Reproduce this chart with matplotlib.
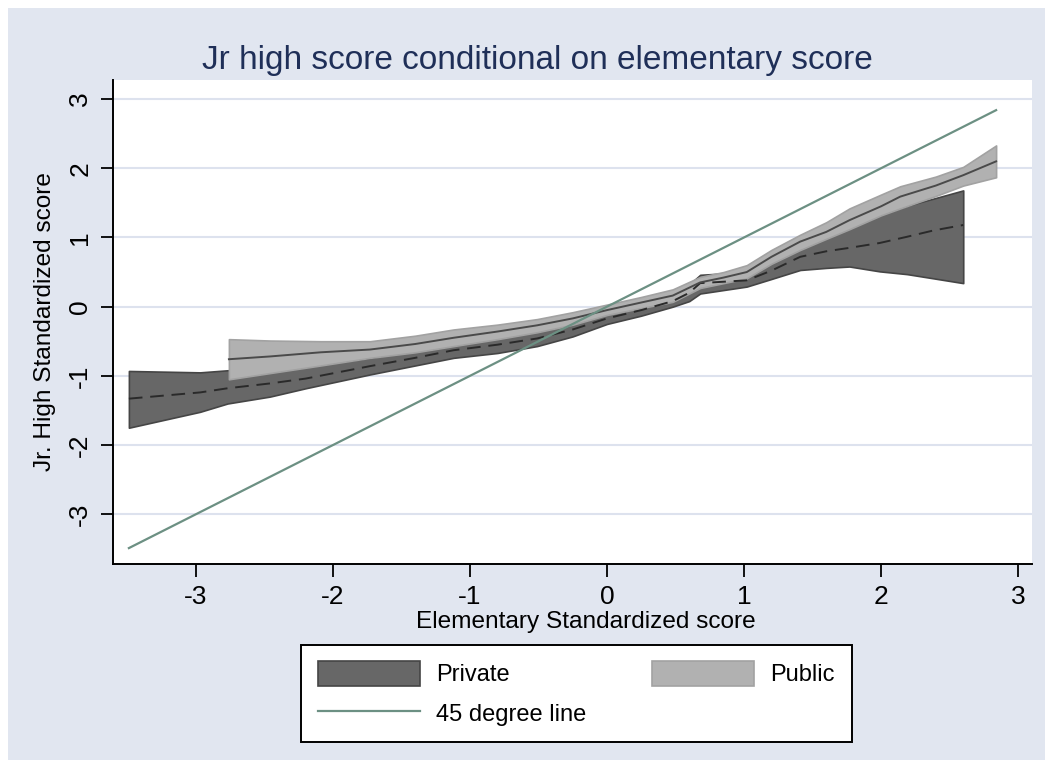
import matplotlib
matplotlib.use("Agg")
import matplotlib.pyplot as plt
from matplotlib.patches import Rectangle, Patch
from matplotlib.lines import Line2D

plt.rcParams['font.family'] = ['Liberation Sans', 'DejaVu Sans']
plt.rcParams['axes.unicode_minus'] = False

# ---------------- data ----------------
# Private school: conditional mean and confidence band
priv_x = [-3.49, -2.97, -2.77, -2.46, -2.20, -1.73, -1.40, -1.12, -0.80, -0.51, -0.25, 0.00,
          0.25, 0.48, 0.60, 0.68, 0.85, 1.02, 1.20, 1.41, 1.60, 1.77, 1.99, 2.19, 2.38, 2.60]
priv_mean = [-1.33, -1.24, -1.18, -1.11, -1.04, -0.86, -0.74, -0.63, -0.55, -0.46, -0.33, -0.17,
             -0.05, 0.08, 0.20, 0.34, 0.36, 0.38, 0.52, 0.72, 0.80, 0.85, 0.92, 1.01, 1.10, 1.18]
priv_lo = [-1.75, -1.52, -1.40, -1.30, -1.18, -0.98, -0.85, -0.74, -0.67, -0.57, -0.43, -0.25,
           -0.13, 0.00, 0.08, 0.19, 0.24, 0.29, 0.40, 0.53, 0.56, 0.58, 0.51, 0.47, 0.41, 0.34]
priv_hi = [-0.93, -0.95, -0.92, -0.90, -0.86, -0.74, -0.62, -0.52, -0.44, -0.35, -0.21, -0.06,
           0.06, 0.18, 0.32, 0.46, 0.48, 0.50, 0.68, 0.90, 1.04, 1.15, 1.33, 1.46, 1.56, 1.68]

# Public school: conditional mean and confidence band
pub_x = [-2.76, -2.46, -2.09, -1.73, -1.40, -1.12, -0.80, -0.51, -0.25, 0.00, 0.25, 0.48,
         0.68, 0.85, 1.02, 1.20, 1.41, 1.60, 1.77, 2.00, 2.14, 2.40, 2.60, 2.84]
pub_mean = [-0.76, -0.72, -0.66, -0.62, -0.54, -0.45, -0.36, -0.27, -0.17, -0.05, 0.06, 0.16,
            0.35, 0.42, 0.50, 0.72, 0.94, 1.08, 1.25, 1.45, 1.59, 1.75, 1.90, 2.10]
pub_lo = [-1.05, -0.96, -0.85, -0.74, -0.66, -0.57, -0.47, -0.37, -0.26, -0.12, -0.02, 0.07,
          0.27, 0.34, 0.41, 0.62, 0.82, 0.98, 1.12, 1.32, 1.42, 1.60, 1.75, 1.87]
pub_hi = [-0.47, -0.49, -0.50, -0.50, -0.42, -0.33, -0.26, -0.18, -0.08, 0.03, 0.14, 0.25,
          0.43, 0.50, 0.60, 0.82, 1.04, 1.22, 1.42, 1.62, 1.74, 1.88, 2.02, 2.33]

# 45 degree reference line
line45_x = [-3.49, 2.84]
line45_y = [-3.49, 2.84]

xticks = [-3, -2, -1, 0, 1, 2, 3]
yticks = [-3, -2, -1, 0, 1, 2, 3]

title = "Jr high score conditional on elementary score"
xlabel = "Elementary Standardized score"
ylabel = "Jr. High Standardized score"

# ---------------- styles ----------------
BG = '#E1E6F0'
PRIV_FILL = '#676767'
PRIV_EDGE = '#454545'
PUB_FILL = '#B1B1B1'
PUB_EDGE = '#A2A2A2'
LINE45 = '#6C9083'
TITLE_C = '#1F2F58'

fig = plt.figure(figsize=(10.53, 7.68), dpi=100, facecolor='white')
fig.patches.append(Rectangle((8 / 1053, 8 / 768), 1037 / 1053, 752 / 768,
                             transform=fig.transFigure, facecolor=BG,
                             edgecolor='none', zorder=-10))

ax = fig.add_axes([113 / 1053, 1 - 564 / 768, (1032 - 113) / 1053, (564 - 80) / 768])
ax.set_facecolor('white')

ax.fill_between(priv_x, priv_lo, priv_hi, facecolor=PRIV_FILL, edgecolor=PRIV_EDGE,
                linewidth=1.2, zorder=2)
ax.fill_between(pub_x, pub_lo, pub_hi, facecolor=PUB_FILL, edgecolor=PUB_EDGE,
                linewidth=1.2, zorder=3)
ax.plot(priv_x, priv_mean, color='#2A2A2A', linestyle=(0, (7, 4)), linewidth=1.4, zorder=4)
ax.plot(pub_x, pub_mean, color='#4A4A4A', linewidth=1.4, zorder=4)
ax.plot(line45_x, line45_y, color=LINE45, linewidth=1.6, zorder=5)

ax.set_xlim(-3.606, 3.102)
ax.set_ylim(-3.72, 3.276)
ax.set_xticks(xticks)
ax.set_yticks(yticks)
ax.set_xticklabels([str(t) for t in xticks], fontsize=19)
ax.set_yticklabels([str(t) for t in yticks], fontsize=19, rotation=90, va='center')
ax.tick_params(axis='both', length=9, width=1.3, color='black', pad=6)
ax.grid(axis='y', color='#DDE2EE', linewidth=1.5, zorder=1)
ax.set_axisbelow(True)
for s in ['top', 'right']:
    ax.spines[s].set_visible(False)
for s in ['left', 'bottom']:
    ax.spines[s].set_linewidth(1.4)
    ax.spines[s].set_color('black')

ax.set_xlabel(xlabel, fontsize=17.6)
ax.set_ylabel(ylabel, fontsize=17.6)
ax.xaxis.set_label_coords(0.515, -0.097)
ax.yaxis.set_label_coords(-0.062, 0.5)

fig.text(0.51, 1 - 60 / 768, title, fontsize=24, color=TITLE_C, ha='center', va='center')

handles = [Patch(facecolor=PRIV_FILL, edgecolor=PRIV_EDGE, linewidth=1.2),
           Line2D([0], [0], color=LINE45, linewidth=1.6),
           Patch(facecolor=PUB_FILL, edgecolor=PUB_EDGE, linewidth=1.2)]
labels = ['Private', '45 degree line', 'Public']
leg = fig.legend(handles, labels, ncol=2, loc='center',
                 bbox_to_anchor=(576.5 / 1053, 1 - 693.5 / 768),
                 fontsize=17, frameon=True, fancybox=False, edgecolor='black',
                 framealpha=1, handlelength=4.3, handleheight=1.2,
                 handletextpad=0.7, columnspacing=2.8, borderpad=0.7,
                 labelspacing=0.6)
leg.get_frame().set_linewidth(1.4)

fig.savefig('out.png', dpi=100, facecolor='white')
